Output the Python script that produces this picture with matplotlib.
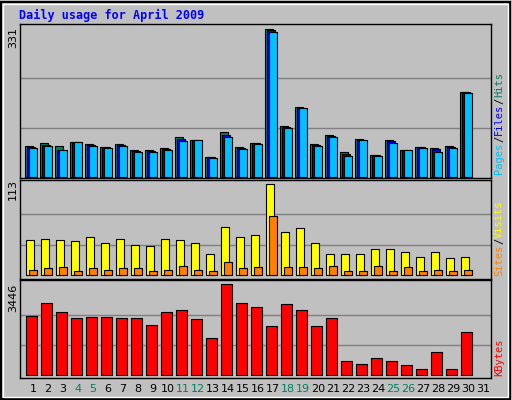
import matplotlib
matplotlib.use("Agg")
import matplotlib.pyplot as plt
import numpy as np

days = list(range(1, 32))
weekend = [4, 5, 11, 12, 18, 19, 25, 26]
hits = [69,76,69,78,73,67,73,60,60,64,89,82,44,100,67,76,331,114,157,73,94,55,85,49,82,60,67,64,69,190,0]
files = [67,71,60,78,71,67,71,58,58,62,85,82,44,94,64,76,329,112,154,71,91,51,82,49,80,60,67,62,67,190,0]
pages = [64,69,60,78,69,64,69,55,55,60,80,82,42,89,62,73,324,109,154,69,89,46,82,46,76,60,64,55,64,188,0]
visits = [44,45,44,42,47,40,45,37,36,45,44,40,27,60,48,50,113,54,59,40,26,26,27,33,33,29,23,29,21,23,0]
sites = [7,9,10,6,9,7,9,9,6,7,11,7,6,17,9,10,74,10,10,9,11,6,5,12,6,10,6,7,6,7,0]
kbytes = [2239,2730,2390,2164,2201,2201,2164,2164,1900,2390,2466,2126,1409,3446,2730,2579,1862,2692,2466,1862,2164,541,428,654,541,390,239,881,239,1636,0]

W, H = 512, 400
fig = plt.figure(figsize=(W/100, H/100), dpi=100, facecolor="#c0c0c0")
x = np.array(days, dtype=float)
u = 1/15.0

def mkax(top, bottom):
    ax = fig.add_axes([20/W, 1-bottom/H, (491-20)/W, (bottom-top)/H])
    ax.set_facecolor("#c0c0c0")
    ax.set_xlim(1-13*u, 1+(491-33)*u)
    ax.set_xticks([]); ax.set_yticks([])
    for s in ax.spines.values():
        s.set_color("black"); s.set_linewidth(1)
    return ax

def bars(ax, vals, off, w, color):
    v = np.array(vals, dtype=float)
    m = v > 0
    ax.bar(x[m]+off*u, v[m], width=w*u, align="edge", color=color, edgecolor="black", lw=0.8)

ax1 = mkax(24, 178)
mx = max(hits)
ax1.set_ylim(-3, 343)
for g in (mx/3, 2*mx/3):
    ax1.axhline(g, color="#808080", lw=1, zorder=0)
bars(ax1, hits, -8, 8, "#008060")
bars(ax1, files, -6, 8, "#0000ff")
bars(ax1, pages, -4.5, 8, "#00c0ff")

ax2 = mkax(180, 279)
ax2.set_ylim(-4.5, 118)
mv = max(visits)
for g in (mv/3, 2*mv/3):
    ax2.axhline(g, color="#808080", lw=1, zorder=0)
bars(ax2, visits, -7.3, 8, "#ffff00")
bars(ax2, sites, -4, 7.5, "#ff8000")

ax3 = mkax(280, 378)
ax3.set_ylim(-98, 3608)
mk = max(kbytes)
for g in (mk/3, 2*mk/3):
    ax3.axhline(g, color="#808080", lw=1, zorder=0)
bars(ax3, kbytes, -6.7, 10.3, "#ff0000")

fig.add_artist(plt.Rectangle((1/W, 1/H), 1-3/W, 1-3/H, transform=fig.transFigure, fill=False, ec="black", lw=1.5))
fig.add_artist(plt.Rectangle((3/W, 3/H), 1-7/W, 1-7/H, transform=fig.transFigure, fill=False, ec="white", lw=1))

fig.text(19/W, 1-15/H, "Daily usage for April 2009", color="#0000ff", fontsize=8.5,
         fontweight="bold", family="DejaVu Sans Mono", va="center", ha="left")

for lbl, yc in (("331", 37), ("113", 190), ("3446", 298)):
    fig.text(13/W, 1-yc/H, lbl, rotation=90, fontsize=8, va="center", ha="center", color="black")

for d in days:
    fig.text((33+15*(d-1))/W, 1-389/H, str(d), fontsize=8, ha="center", va="center",
             color="#008060" if d in weekend else "black")

renderer = fig.canvas.get_renderer()

def vlabel(parts, xc, ybot):
    y = ybot
    for t, c in parts:
        tx = fig.text(xc/W, 1-y/H, t, rotation=90, fontsize=7.5, family="DejaVu Sans Mono",
                      color=c, ha="center", va="bottom")
        ext = tx.get_window_extent(renderer)
        y -= ext.height + 0.5

vlabel([("Pages", "#00c0ff"), ("/", "black"), ("Files", "#0000ff"), ("/", "black"), ("Hits", "#008060")], 499, 174)
vlabel([("Sites", "#ff8000"), ("/", "black"), ("Visits", "#ffff00")], 499, 276)
vlabel([("KBytes", "#ff0000")], 499, 376)

fig.savefig("out.png", dpi=100, facecolor=fig.get_facecolor())
